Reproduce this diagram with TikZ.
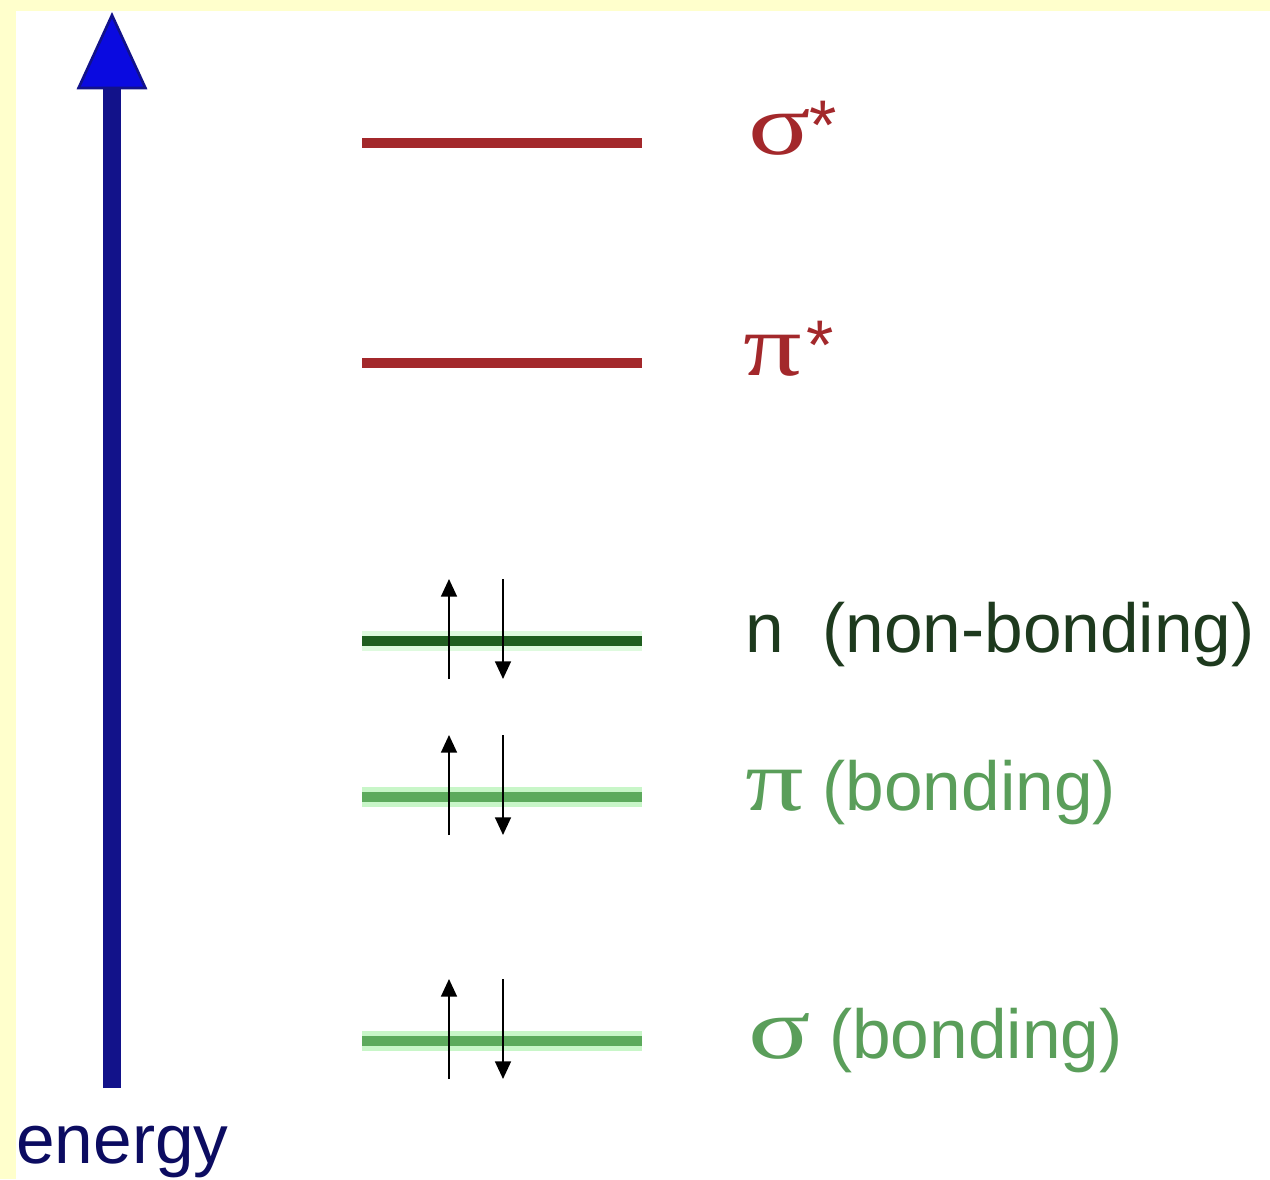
\documentclass[tikz,border=0pt]{standalone}
\usepackage{fontspec}
\setmainfont{Liberation Sans}
\newfontfamily\grk{Liberation Serif}
\usetikzlibrary{arrows.meta}
\definecolor{paper}{HTML}{FFFFCC}
\definecolor{axis}{HTML}{12128A}
\definecolor{axishead}{HTML}{0A0AE0}
\definecolor{anti}{HTML}{A3282B}
\definecolor{nonb}{HTML}{1F5E1F}
\definecolor{nonbtext}{HTML}{1E3A1E}
\definecolor{bond}{HTML}{5CAA5C}
\definecolor{bondtext}{HTML}{5A9E5A}
\definecolor{glow}{HTML}{C8F6C8}
\newcommand{\starmark}{\raisebox{3pt}{\rmfamily\fontsize{40pt}{40pt}\selectfont *}}
\newcommand{\gsym}[2]{\makebox[#1][l]{\grk\fontsize{50pt}{52pt}\selectfont\scalebox{1.32}[1]{#2}}}

\begin{document}
\begin{tikzpicture}[x=0.02cm, y=-0.02cm,
  level/.style={line width=5.5pt},
  halo/.style={line width=11pt, glow},
  spin/.style={line width=1.1pt, -{Triangle[length=10pt,width=9pt]}},
  lbl/.style={inner sep=0pt, anchor=base west, font=\fontsize{39.5pt}{40pt}\selectfont}]
\useasboundingbox (0,0) rectangle (1270,1179);
\fill[paper] (0,0) rectangle (1270,1179);
\fill[white] (16,11) rectangle (1270,1179);
% energy axis
\coordinate (ebot) at (112,1088);
\coordinate (etop) at (112,12);
\draw[axis, line width=10pt, -{Triangle[length=44pt,width=40pt,line width=1.5pt,fill=axishead]}] (ebot) -- (etop);
\node[lbl, text=axis!70!black] (energy) at (16,1163) {energy};
% orbital levels
\foreach \name/\y in {sigs/143, pis/363, nb/641, pib/797, sigb/1041} {
  \coordinate (\name L) at (362,\y);
  \coordinate (\name R) at (642,\y);
}
\draw[halo] (pibL) -- (pibR);
\draw[halo] (sigbL) -- (sigbR);
\draw[halo, glow!60!white] (nbL) -- (nbR);
\draw[level, anti] (sigsL) -- (sigsR);
\draw[level, anti] (pisL) -- (pisR);
\draw[level, nonb] (nbL) -- (nbR);
\draw[level, bond] (pibL) -- (pibR);
\draw[level, bond] (sigbL) -- (sigbR);
% electron pairs
\foreach \name/\y in {nb/641, pib/797, sigb/1041} {
  \coordinate (\name u0) at (449,\y+38);
  \coordinate (\name u1) at (449,\y-62);
  \coordinate (\name d0) at (503,\y-62);
  \coordinate (\name d1) at (503,\y+38);
  \draw[spin] (\name u0) -- (\name u1);
  \draw[spin] (\name d0) -- (\name d1);
}
% labels
\node[lbl, text=anti] (sigslbl) at (748,155) {\gsym{35pt}{σ}\starmark};
\node[lbl, text=anti] (pislbl) at (743,375) {\gsym{36pt}{π}\starmark};
\node[lbl, text=nonbtext] (nblbl) at (745,652) {n~~(non-bonding)};
\node[lbl, text=bondtext] (piblbl) at (745,810) {\gsym{44pt}{π}(bonding)};
\node[lbl, text=bondtext] (sigblbl) at (748,1058) {\gsym{46pt}{σ}(bonding)};
\end{tikzpicture}
\end{document}
